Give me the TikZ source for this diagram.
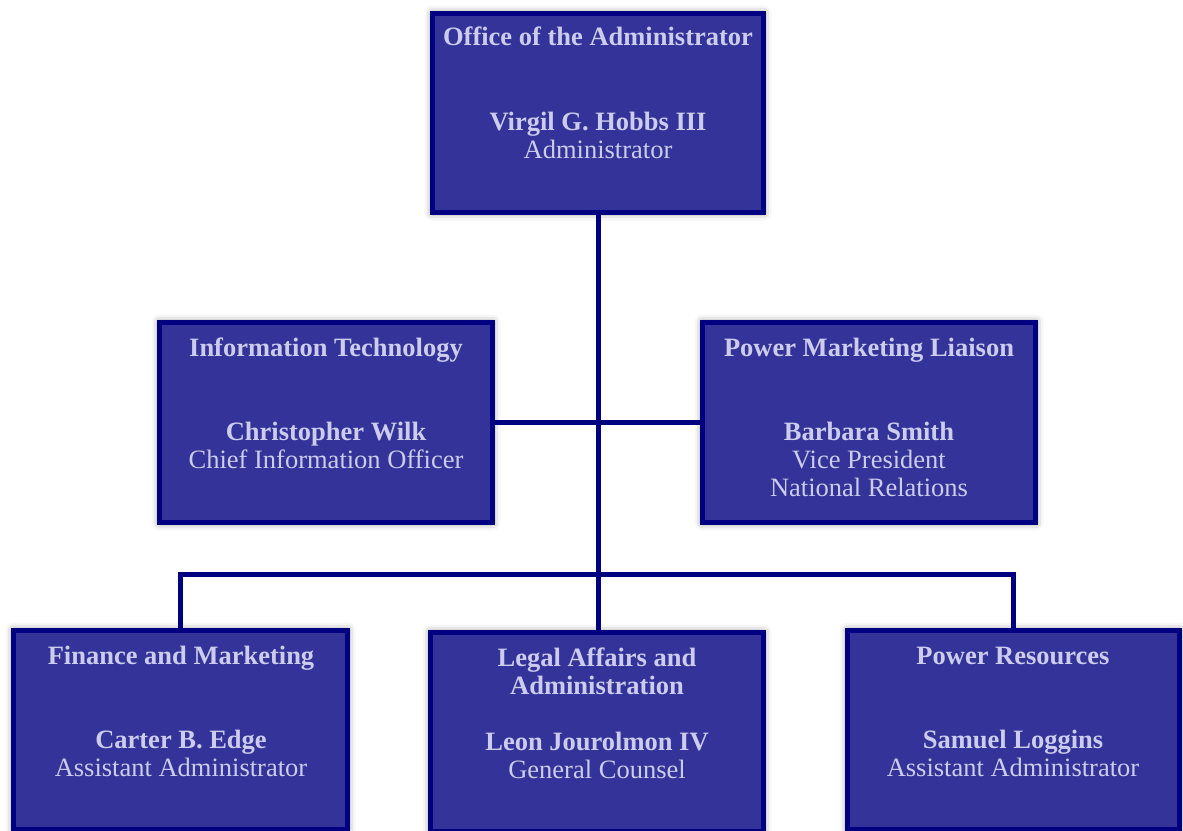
\documentclass[tikz,border=0pt]{standalone}
\usepackage{fontspec}
\setmainfont{Liberation Serif}
\usetikzlibrary{shadows.blur}
\definecolor{boxfill}{HTML}{333399}
\definecolor{boxline}{HTML}{000080}
\definecolor{boxtext}{RGB}{204,204,238}
\tikzset{
  orgbox/.style={draw=boxline, line width=5pt, fill=boxfill, rectangle, inner sep=0pt,
    blur shadow={shadow xshift=0pt, shadow yshift=0pt, shadow blur radius=8pt, shadow opacity=50}},
  ttl/.style={anchor=base, text=boxtext, inner sep=0pt, font=\fontsize{26.5}{28}\selectfont\bfseries},
  nam/.style={anchor=base, text=boxtext, inner sep=0pt, font=\fontsize{26.5}{28}\selectfont\bfseries},
  rol/.style={anchor=base, text=boxtext, inner sep=0pt, font=\fontsize{26.5}{28}\selectfont},
  conn/.style={draw=boxline, line width=5pt}
}
\begin{document}
\begin{tikzpicture}[x=1pt,y=-1pt]
\useasboundingbox (0,0) rectangle (1183,830);
\clip (0,0) rectangle (1183,830);
\coordinate (bus) at (598,574);
% boxes
\node[orgbox, minimum width=331pt, minimum height=199pt] (top) at (598,113) {};
\node[orgbox, minimum width=333pt, minimum height=200pt] (it) at (326,422.5) {};
\node[orgbox, minimum width=333pt, minimum height=200pt] (pml) at (869,422.5) {};
\node[orgbox, minimum width=334pt, minimum height=199pt] (fin) at (180.5,730) {};
\node[orgbox, minimum width=333pt, minimum height=199pt] (leg) at (597,732) {};
\node[orgbox, minimum width=332pt, minimum height=199pt] (pr) at (1013.5,730) {};
% connectors
\draw[conn] (top.south) -- (598,632.5);
\draw[conn] (it.east) -- (pml.west);
\draw[conn] (fin.north) |- (bus) -| (pr.north);
% texts
\node[ttl] (topT) at (598,45) {Office of the Administrator};
\node[nam] (topN) at (598,130) {Virgil G. Hobbs III};
\node[rol] (topR) at (598,158) {Administrator};

\node[ttl] (itT) at (326,356) {Information Technology};
\node[nam] (itN) at (326,440) {Christopher Wilk};
\node[rol] (itR) at (326,468) {Chief Information Officer};

\node[ttl] (pmlT) at (869,356) {Power Marketing Liaison};
\node[nam] (pmlN) at (869,440) {Barbara Smith};
\node[rol] (pmlR) at (869,468) {Vice President};
\node[rol] (pmlR2) at (869,496) {National Relations};

\node[ttl] (finT) at (181,664) {Finance and Marketing};
\node[nam] (finN) at (181,748) {Carter B. Edge};
\node[rol] (finR) at (181,776) {Assistant Administrator};

\node[ttl] (legT) at (597,666) {Legal Affairs and};
\node[ttl] (legT2) at (597,694) {Administration};
\node[nam] (legN) at (597,750) {Leon Jourolmon IV};
\node[rol] (legR) at (597,778) {General Counsel};

\node[ttl] (prT) at (1013,664) {Power Resources};
\node[nam] (prN) at (1013,748) {Samuel Loggins};
\node[rol] (prR) at (1013,776) {Assistant Administrator};
\end{tikzpicture}
\end{document}
